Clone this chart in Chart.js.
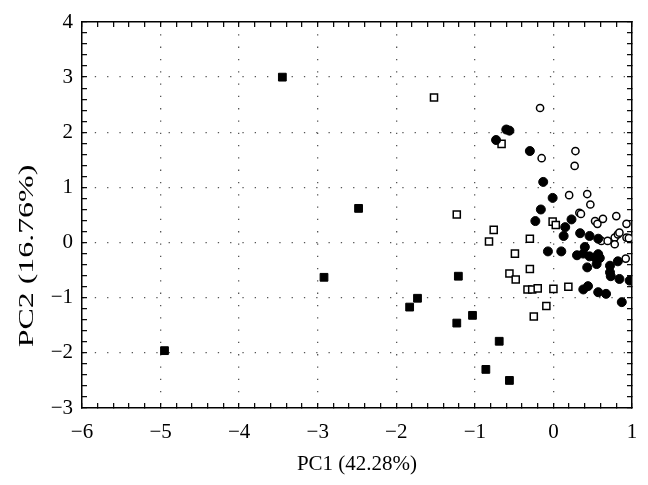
<!DOCTYPE html>
<html>
<head>
<meta charset="utf-8">
<script src="https://cdn.jsdelivr.net/npm/chart.js@4/dist/chart.umd.min.js"></script>
<style>
  html, body { margin: 0; padding: 0; background: #fff; }
  #wrap { width: 648px; height: 485px; }
</style>
</head>
<body>
<div id="wrap"><canvas id="chart"></canvas></div>
<script>
// axis setup
var xRange = [-6, 1];
var yRange = [-3, 4];
var xTitle = "PC1 (42.28%)";
var yTitle = "PC2 (16.76%)";

// filled squares
var filledSquares = [
    [-4.95, -1.96], [-3.45, 3.0], [-2.48, 0.62], [-2.92, -0.63], [-1.21, -0.61],
    [-1.73, -1.01], [-1.83, -1.17], [-1.23, -1.46], [-1.03, -1.32], [-0.69, -1.79],
    [-0.86, -2.30], [-0.56, -2.50]
];

// open squares
var openSquares = [
    [-1.52, 2.63], [-1.23, 0.51], [-0.66, 1.79], [-0.76, 0.23], [-0.82, 0.02],
    [-0.30, 0.07], [-0.49, -0.20], [-0.01, 0.38], [0.03, 0.32], [-0.30, -0.48],
    [-0.56, -0.56], [-0.48, -0.67], [-0.33, -0.85], [-0.27, -0.85], [-0.20, -0.83],
    [0.00, -0.84], [0.19, -0.80], [-0.09, -1.15], [-0.25, -1.34]
];

// filled circles
var filledCircles = [
    [-0.60, 2.05], [-0.56, 2.03], [-0.73, 1.86], [-0.30, 1.66], [-0.13, 1.10],
    [-0.01, 0.81], [-0.16, 0.60], [-0.23, 0.39], [0.23, 0.42], [0.15, 0.28],
    [0.13, 0.12], [0.34, 0.17], [0.46, 0.12], [0.57, 0.07], [-0.07, -0.16],
    [0.10, -0.16], [0.40, -0.08], [0.30, -0.23], [0.38, -0.20], [0.46, -0.25],
    [0.53, -0.27], [0.57, -0.21], [0.59, -0.28], [0.82, -0.34], [0.43, -0.45],
    [0.55, -0.39], [0.72, -0.42], [0.72, -0.54], [0.73, -0.61], [0.84, -0.66],
    [0.97, -0.69], [0.38, -0.85], [0.44, -0.79], [0.57, -0.90], [0.67, -0.93],
    [0.87, -1.08]
];

// open circles
var openCircles = [
    [-0.17, 2.44], [0.28, 1.66], [0.27, 1.39], [-0.15, 1.53], [0.20, 0.86],
    [0.43, 0.88], [0.47, 0.69], [0.33, 0.54], [0.35, 0.52], [0.53, 0.39],
    [0.56, 0.34], [0.63, 0.43], [0.80, 0.48], [0.93, 0.34], [0.61, 0.03],
    [0.69, 0.03], [0.78, 0.09], [0.82, 0.15], [0.84, 0.18], [0.78, -0.03],
    [0.93, 0.09], [0.96, 0.08], [0.92, -0.29]
];

function toPoints(list) {
    return list.map(function(p) { return { x: p[0], y: p[1] }; });
}

function isMajor(v) {
    return Math.abs(v - Math.round(v)) < 1e-6;
}

function fmt(v) {
    if (!isMajor(v)) return '';
    v = Math.round(v);
    return v < 0 ? '\u2212' + Math.abs(v) : String(v);
}

var serif = '"Liberation Serif", "DejaVu Serif", serif';

// grid dots only on the integer ticks, not at the frame
function gridColor(range) {
    return function(ctx) {
        var v = ctx.tick ? ctx.tick.value : null;
        if (v === null || !isMajor(v)) return 'rgba(0,0,0,0)';
        if (Math.abs(v - range[0]) < 1e-6 || Math.abs(v - range[1]) < 1e-6) return 'rgba(0,0,0,0)';
        return '#555';
    };
}

function axis(pos, range, labels, size) {
    return {
        type: 'linear',
        position: pos,
        min: range[0],
        max: range[1],
        grid: {
            display: true,
            drawOnChartArea: labels,
            color: gridColor(range),
            lineWidth: 1.3,
            drawTicks: true,
            tickLength: -5,
            tickColor: '#000',
            tickWidth: 1.2
        },
        border: { display: true, color: '#000', width: 1.5, dash: [1.3, 11] },
        ticks: {
            stepSize: 0.2,
            autoSkip: false,
            maxRotation: 0,
            minRotation: 0,
            padding: pos === 'bottom' ? 17 : 14,
            color: labels ? '#000' : 'rgba(0,0,0,0)',
            font: { family: serif, size: 21 },
            callback: function(v) { return labels ? fmt(v) : ''; }
        },
        title: pos === 'bottom' ? {
            display: true,
            text: xTitle,
            color: '#000',
            font: { family: serif, size: 21 },
            padding: { top: 0, bottom: 8 }
        } : { display: false },
        afterFit: function(scale) {
            if (pos === 'left' || pos === 'right') scale.width = size;
            else scale.height = size;
            // let the layout padding alone decide the plot frame
            scale.paddingTop = 0;
            scale.paddingBottom = 0;
            scale.paddingLeft = 0;
            scale.paddingRight = 0;
        }
    };
}

// y axis title, drawn a bit longer and lower as in the original
var yTitlePlugin = {
    id: 'yTitle',
    afterDraw: function(chart) {
        var ctx = chart.ctx;
        ctx.save();
        ctx.translate(27, 256);
        ctx.rotate(-Math.PI / 2);
        ctx.scale(1.45, 1);
        ctx.font = '22px ' + serif;
        ctx.fillStyle = '#000';
        ctx.textAlign = 'center';
        ctx.textBaseline = 'middle';
        ctx.fillText(yTitle, 0, 0);
        ctx.restore();
    }
};

var ctx = document.getElementById('chart').getContext('2d');
var chart = new Chart(ctx, {
    type: 'scatter',
    data: {
        datasets: [{
            label: 'filled circles',
            data: toPoints(filledCircles),
            pointStyle: 'circle',
            pointRadius: 4.5,
            backgroundColor: '#000',
            borderColor: '#000',
            borderWidth: 1
        }, {
            label: 'open circles',
            data: toPoints(openCircles),
            pointStyle: 'circle',
            pointRadius: 3.6,
            backgroundColor: '#fff',
            borderColor: '#000',
            borderWidth: 1.5
        }, {
            label: 'open squares',
            data: toPoints(openSquares),
            pointStyle: 'rect',
            pointRadius: 5,
            backgroundColor: '#fff',
            borderColor: '#000',
            borderWidth: 1.5
        }, {
            label: 'filled squares',
            data: toPoints(filledSquares),
            pointStyle: 'rect',
            pointRadius: 5.5,
            backgroundColor: '#000',
            borderColor: '#000',
            borderWidth: 1
        }]
    },
    options: {
        responsive: true,
        maintainAspectRatio: false,
        animation: false,
        layout: { padding: { top: 22, right: 16, left: 0, bottom: 0 } },
        plugins: {
            legend: { display: false },
            tooltip: { enabled: false }
        },
        scales: {
            x: axis('bottom', xRange, true, 77),
            y: axis('left', yRange, true, 82),
            x2: axis('top', xRange, false, 0),
            y2: axis('right', yRange, false, 0)
        }
    },
    plugins: [yTitlePlugin]
});
</script>
</body>
</html>
